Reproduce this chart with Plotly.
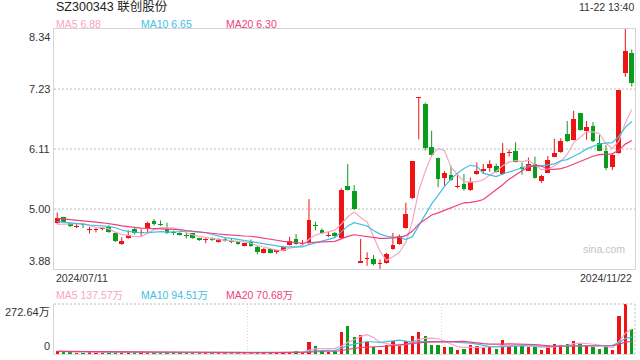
import numpy as np
import plotly.graph_objects as go

# ---------------- data ----------------
title_text = "SZ300343 联创股份"
stamp_text = "11-22 13:40"
start_label = "2024/07/11"
end_label = "2024/11/22"
watermark = "sina.com"

opens = [4.74, 4.84, 4.73, 4.66, 4.72, 4.61, 4.60, 4.62, 4.66, 4.54,
         4.34, 4.45, 4.62, 4.54, 4.64, 4.78, 4.70, 4.62, 4.57, 4.55,
         4.51, 4.54, 4.45, 4.42, 4.46, 4.38, 4.44, 4.39, 4.38, 4.31,
         4.39, 4.29, 4.18, 4.26, 4.19, 4.22, 4.33, 4.44, 4.35, 4.36,
         4.68, 4.60, 4.50, 4.54, 4.46, 5.42, 5.33, 4.00, 4.07, 4.06,
         3.98, 3.99, 4.25, 4.34, 4.65, 5.20, 7.06, 6.95, 6.14, 5.94,
         5.58, 5.63, 5.40, 5.46, 5.35, 5.645, 5.71, 5.76, 5.80, 5.645,
         6.04, 6.07, 5.78, 5.71, 5.84, 5.52, 5.67, 5.97, 6.06, 6.39,
         6.28, 6.77, 6.44, 6.54, 6.22, 6.07, 5.78, 6.03, 7.53, 7.89]
closes = [4.83, 4.76, 4.67, 4.68, 4.70, 4.62, 4.61, 4.63, 4.57, 4.40,
          4.40, 4.51, 4.54, 4.56, 4.73, 4.72, 4.69, 4.54, 4.55, 4.52,
          4.50, 4.45, 4.41, 4.43, 4.41, 4.43, 4.40, 4.38, 4.34, 4.36,
          4.31, 4.19, 4.25, 4.18, 4.23, 4.28, 4.40, 4.34, 4.36, 4.79,
          4.67, 4.55, 4.51, 4.49, 5.35, 5.35, 5.00, 4.00, 4.08, 3.97,
          3.99, 4.16, 4.33, 4.50, 4.90, 5.88, 7.06, 6.12, 5.99, 5.55,
          5.67, 5.53, 5.41, 5.36, 5.50, 5.71, 5.72, 5.84, 5.69, 6.03,
          6.05, 5.87, 5.73, 5.84, 5.58, 5.61, 5.91, 6.03, 6.26, 6.25,
          6.67, 6.46, 6.51, 6.25, 6.08, 5.76, 6.00, 7.20, 7.93, 7.34]
highs = [4.93, 4.85, 4.74, 4.73, 4.73, 4.66, 4.64, 4.66, 4.69, 4.56,
         4.47, 4.60, 4.64, 4.62, 4.76, 4.81, 4.78, 4.74, 4.59, 4.56,
         4.55, 4.55, 4.46, 4.47, 4.47, 4.45, 4.46, 4.45, 4.39, 4.37,
         4.43, 4.31, 4.27, 4.27, 4.24, 4.30, 4.48, 4.53, 4.42, 5.18,
         4.76, 4.63, 4.57, 4.57, 5.38, 5.83, 5.44, 4.44, 4.19, 4.14,
         4.06, 4.18, 4.55, 4.52, 5.11, 5.88, 7.06, 6.97, 6.45, 5.95,
         5.70, 5.80, 5.645, 5.645, 5.58, 5.86, 5.83, 5.90, 5.84, 6.22,
         6.10, 6.235, 5.86, 5.95, 5.97, 5.63, 5.98, 6.30, 6.31, 6.63,
         6.82, 6.78, 6.63, 6.61, 6.37, 6.18, 6.03, 7.20, 8.34, 7.96]
lows = [4.72, 4.74, 4.66, 4.64, 4.64, 4.54, 4.56, 4.60, 4.55, 4.38,
        4.33, 4.44, 4.52, 4.49, 4.54, 4.69, 4.68, 4.53, 4.51, 4.50,
        4.45, 4.44, 4.40, 4.36, 4.40, 4.37, 4.39, 4.36, 4.33, 4.30,
        4.29, 4.15, 4.17, 4.17, 4.16, 4.21, 4.32, 4.33, 4.30, 4.34,
        4.60, 4.53, 4.47, 4.47, 4.44, 5.34, 4.98, 4.00, 3.94, 3.95,
        3.88, 3.98, 4.24, 4.33, 4.63, 5.18, 6.29, 6.08, 5.97, 5.40,
        5.43, 5.52, 5.38, 5.34, 5.33, 5.63, 5.66, 5.69, 5.67, 5.63,
        5.97, 5.86, 5.63, 5.70, 5.56, 5.48, 5.66, 5.96, 6.04, 6.24,
        6.27, 6.45, 6.28, 6.24, 6.07, 5.72, 5.72, 6.02, 7.45, 7.27]
# volume in 万 (10k shares)
volumes = [18, 10, 9, 8, 7, 9, 8, 6, 8, 12,
           11, 9, 8, 7, 12, 10, 8, 9, 7, 6,
           7, 8, 7, 6, 6, 7, 6, 6, 7, 6,
           8, 10, 8, 7, 6, 8, 12, 14, 9, 64,
           42.5, 19, 11.8, 15.4, 118.6, 151.2, 91.4, 102.3, 64.3, 38.9,
           24.4, 51.6, 69.7, 42.5, 69.7, 96.8, 118.6, 96.8, 51.6, 51.6,
           37.1, 37.1, 24.4, 29.9, 48.0, 42.5, 37.1, 46.2, 29.9, 78.8,
           46.2, 46.2, 42.5, 37.1, 37.1, 20.8, 42.5, 57.0, 51.6, 57.0,
           73.3, 57.0, 48.0, 37.1, 29.9, 37.1, 24.4, 205.5, 272.64, 138.5]
# sessions before the window (needed for the moving averages)
prior_closes = [4.95, 4.92, 4.90, 4.93, 4.88, 4.85, 4.86, 4.84, 4.85, 4.82,
                4.84, 4.82, 4.80, 4.81, 4.78, 4.72, 4.68, 4.66, 4.66]
prior_volumes = [16, 15, 17, 14, 15, 16, 14, 13, 15, 14,
                 15, 13, 14, 16, 13, 14, 15, 13, 14]

price_header = [("MA5", "6.88"), ("MA10", "6.65"), ("MA20", "6.30")]
vol_header = [("MA5", "137.57万"), ("MA10", "94.51万"), ("MA20", "70.68万")]
price_ticks = [3.88, 4.995, 6.11, 7.225, 8.34]
price_tick_labels = ["3.88", "5.00", "6.11", "7.23", "8.34"]
vol_ticks = [0, 272.64]
vol_tick_labels = ["0", "272.64万"]
ma_windows = [5, 10, 20]

# ---------------- styles ----------------
UP = "#ef1414"
DOWN = "#0a9c1c"
MA_COLORS = ["#f8a6c4", "#3ec1e4", "#ee3f7b"]
FONT = "Liberation Sans, Arial, Noto Sans CJK SC, sans-serif"
W, H = 640, 360
ML, MR, MT, MB = 54, 5, 29, 6
PW, PH = W - ML - MR, H - MT - MB


def px_x(px):
    return (px - ML) / PW


def px_y(py):
    return (H - MB - py) / PH


n = len(closes)
xs = list(range(n))
up = [c >= o for o, c in zip(opens, closes)]
colors = [UP if u else DOWN for u in up]


def moving(prior, vals, w):
    full = np.array(prior + vals, dtype=float)
    out = np.convolve(full, np.ones(w) / w, mode="valid")
    return out[-len(vals):]


fig = go.Figure()

# candle bodies
min_h = 0.02
base = [min(o, c) for o, c in zip(opens, closes)]
hgt = [max(abs(c - o), min_h) for o, c in zip(opens, closes)]
fig.add_trace(go.Bar(x=xs, y=hgt, base=base, width=0.74,
                     marker=dict(color=colors, line=dict(width=0)),
                     xaxis="x", yaxis="y", hoverinfo="skip"))

# wicks
for flag, col in [(True, UP), (False, DOWN)]:
    wx, wy = [], []
    for i in range(n):
        if up[i] == flag:
            wx += [i, i, None]
            wy += [lows[i], highs[i], None]
    fig.add_trace(go.Scatter(x=wx, y=wy, mode="lines",
                             line=dict(color=col, width=1),
                             xaxis="x", yaxis="y", hoverinfo="skip"))

# price moving averages
for w, col in zip(ma_windows, MA_COLORS):
    fig.add_trace(go.Scatter(x=xs, y=moving(prior_closes, closes, w), mode="lines",
                             line=dict(color=col, width=1.2),
                             xaxis="x", yaxis="y", hoverinfo="skip"))

# volume
fig.add_trace(go.Bar(x=xs, y=volumes, width=0.52,
                     marker=dict(color=colors, line=dict(width=0)),
                     xaxis="x2", yaxis="y2", hoverinfo="skip"))
for w, col in zip(ma_windows, MA_COLORS):
    fig.add_trace(go.Scatter(x=xs, y=moving(prior_volumes, volumes, w), mode="lines",
                             line=dict(color=col, width=1.2),
                             xaxis="x2", yaxis="y2", hoverinfo="skip"))

price_dom = [px_y(269), 1]
vol_dom = [0, px_y(304)]
xr = [-0.5, n - 0.5]
third = [xr[0] + (xr[1] - xr[0]) / 3, xr[0] + 2 * (xr[1] - xr[0]) / 3]

fig.update_layout(
    width=W, height=H, margin=dict(l=ML, r=MR, t=MT, b=MB),
    paper_bgcolor="white", plot_bgcolor="white", showlegend=False,
    bargap=0, barmode="overlay", hovermode=False,
    font=dict(family=FONT, size=11, color="#333"),
    xaxis=dict(domain=[0, 1], range=xr, anchor="y", showticklabels=False,
               showgrid=False, zeroline=False, showline=True, mirror=True,
               linecolor="#d4d4d4", linewidth=1, ticks=""),
    yaxis=dict(domain=price_dom, range=[price_ticks[0], price_ticks[-1]], anchor="x",
               tickvals=price_ticks[1:-1], showticklabels=False, showgrid=True,
               gridcolor="#dcdcdc", griddash="2px,2px", gridwidth=1.5, zeroline=False,
               showline=True, mirror=True, linecolor="#d4d4d4", linewidth=1, ticks=""),
    xaxis2=dict(domain=[0, 1], range=xr, anchor="y2", showticklabels=False,
                tickvals=third, showgrid=True, gridcolor="#d8d8d8", griddash="1px,2px",
                gridwidth=1, zeroline=False, showline=True, linecolor="#dcdcdc",
                linewidth=1, ticks=""),
    yaxis2=dict(domain=vol_dom, range=[vol_ticks[0], vol_ticks[-1]], anchor="x2",
                showticklabels=False, showgrid=False, zeroline=False, showline=True,
                linecolor="#d4d4d4", linewidth=1, ticks=""),
)

# dotted top and right edges of the volume panel
fig.add_shape(type="line", xref="x2 domain", yref="y2 domain", x0=0, x1=1, y0=1, y1=1,
              line=dict(color="#d4d4d4", width=1.5, dash="2px,2px"))
fig.add_shape(type="line", xref="x2 domain", yref="y2 domain", x0=1, x1=1, y0=0, y1=1,
              line=dict(color="#d4d4d4", width=1.5, dash="2px,2px"))

ann = []


def text(x, y, s, size, color="#333", xanchor="left", yanchor="middle", xref="paper",
         yref="paper"):
    ann.append(dict(x=x, y=y, xref=xref, yref=yref, text=s, showarrow=False,
                    xanchor=xanchor, yanchor=yanchor,
                    font=dict(family=FONT, size=size, color=color)))


text(px_x(54), px_y(7.5), title_text, 12.5, "#222")
text(px_x(636), px_y(7.5), stamp_text, 10.5, "#333", xanchor="right")
hx = [54, 139, 224]
for (name, val), col, x0 in zip(price_header, MA_COLORS, hx):
    text(px_x(x0), px_y(24), f"{name} {val}", 10.5, col)
for (name, val), col, x0 in zip(vol_header, MA_COLORS, hx):
    text(px_x(x0), px_y(294.5), f"{name} {val}", 10.5, col)
text(px_x(54), px_y(278), start_label, 10.5)
text(px_x(634), px_y(278), end_label, 10.5, xanchor="right")
text(px_x(581), px_y(249), watermark, 10.5, "#c4c4c4")

# price tick labels
for i, (v, lab) in enumerate(zip(price_ticks, price_tick_labels)):
    ya = "bottom" if i == 0 else ("top" if i == len(price_ticks) - 1 else "middle")
    ann.append(dict(x=0, y=v, xref="paper", yref="y", text=lab, showarrow=False,
                    xanchor="right", yanchor=ya, xshift=-2,
                    font=dict(family=FONT, size=11, color="#333")))
for i, (v, lab) in enumerate(zip(vol_ticks, vol_tick_labels)):
    ya = "bottom" if i == 0 else "top"
    ann.append(dict(x=0, y=v, xref="paper", yref="y2", text=lab, showarrow=False,
                    xanchor="right", yanchor=ya, xshift=-2,
                    font=dict(family=FONT, size=11, color="#333")))

fig.update_layout(annotations=ann)
fig.write_html("out.html", config={"displayModeBar": False, "staticPlot": True})
